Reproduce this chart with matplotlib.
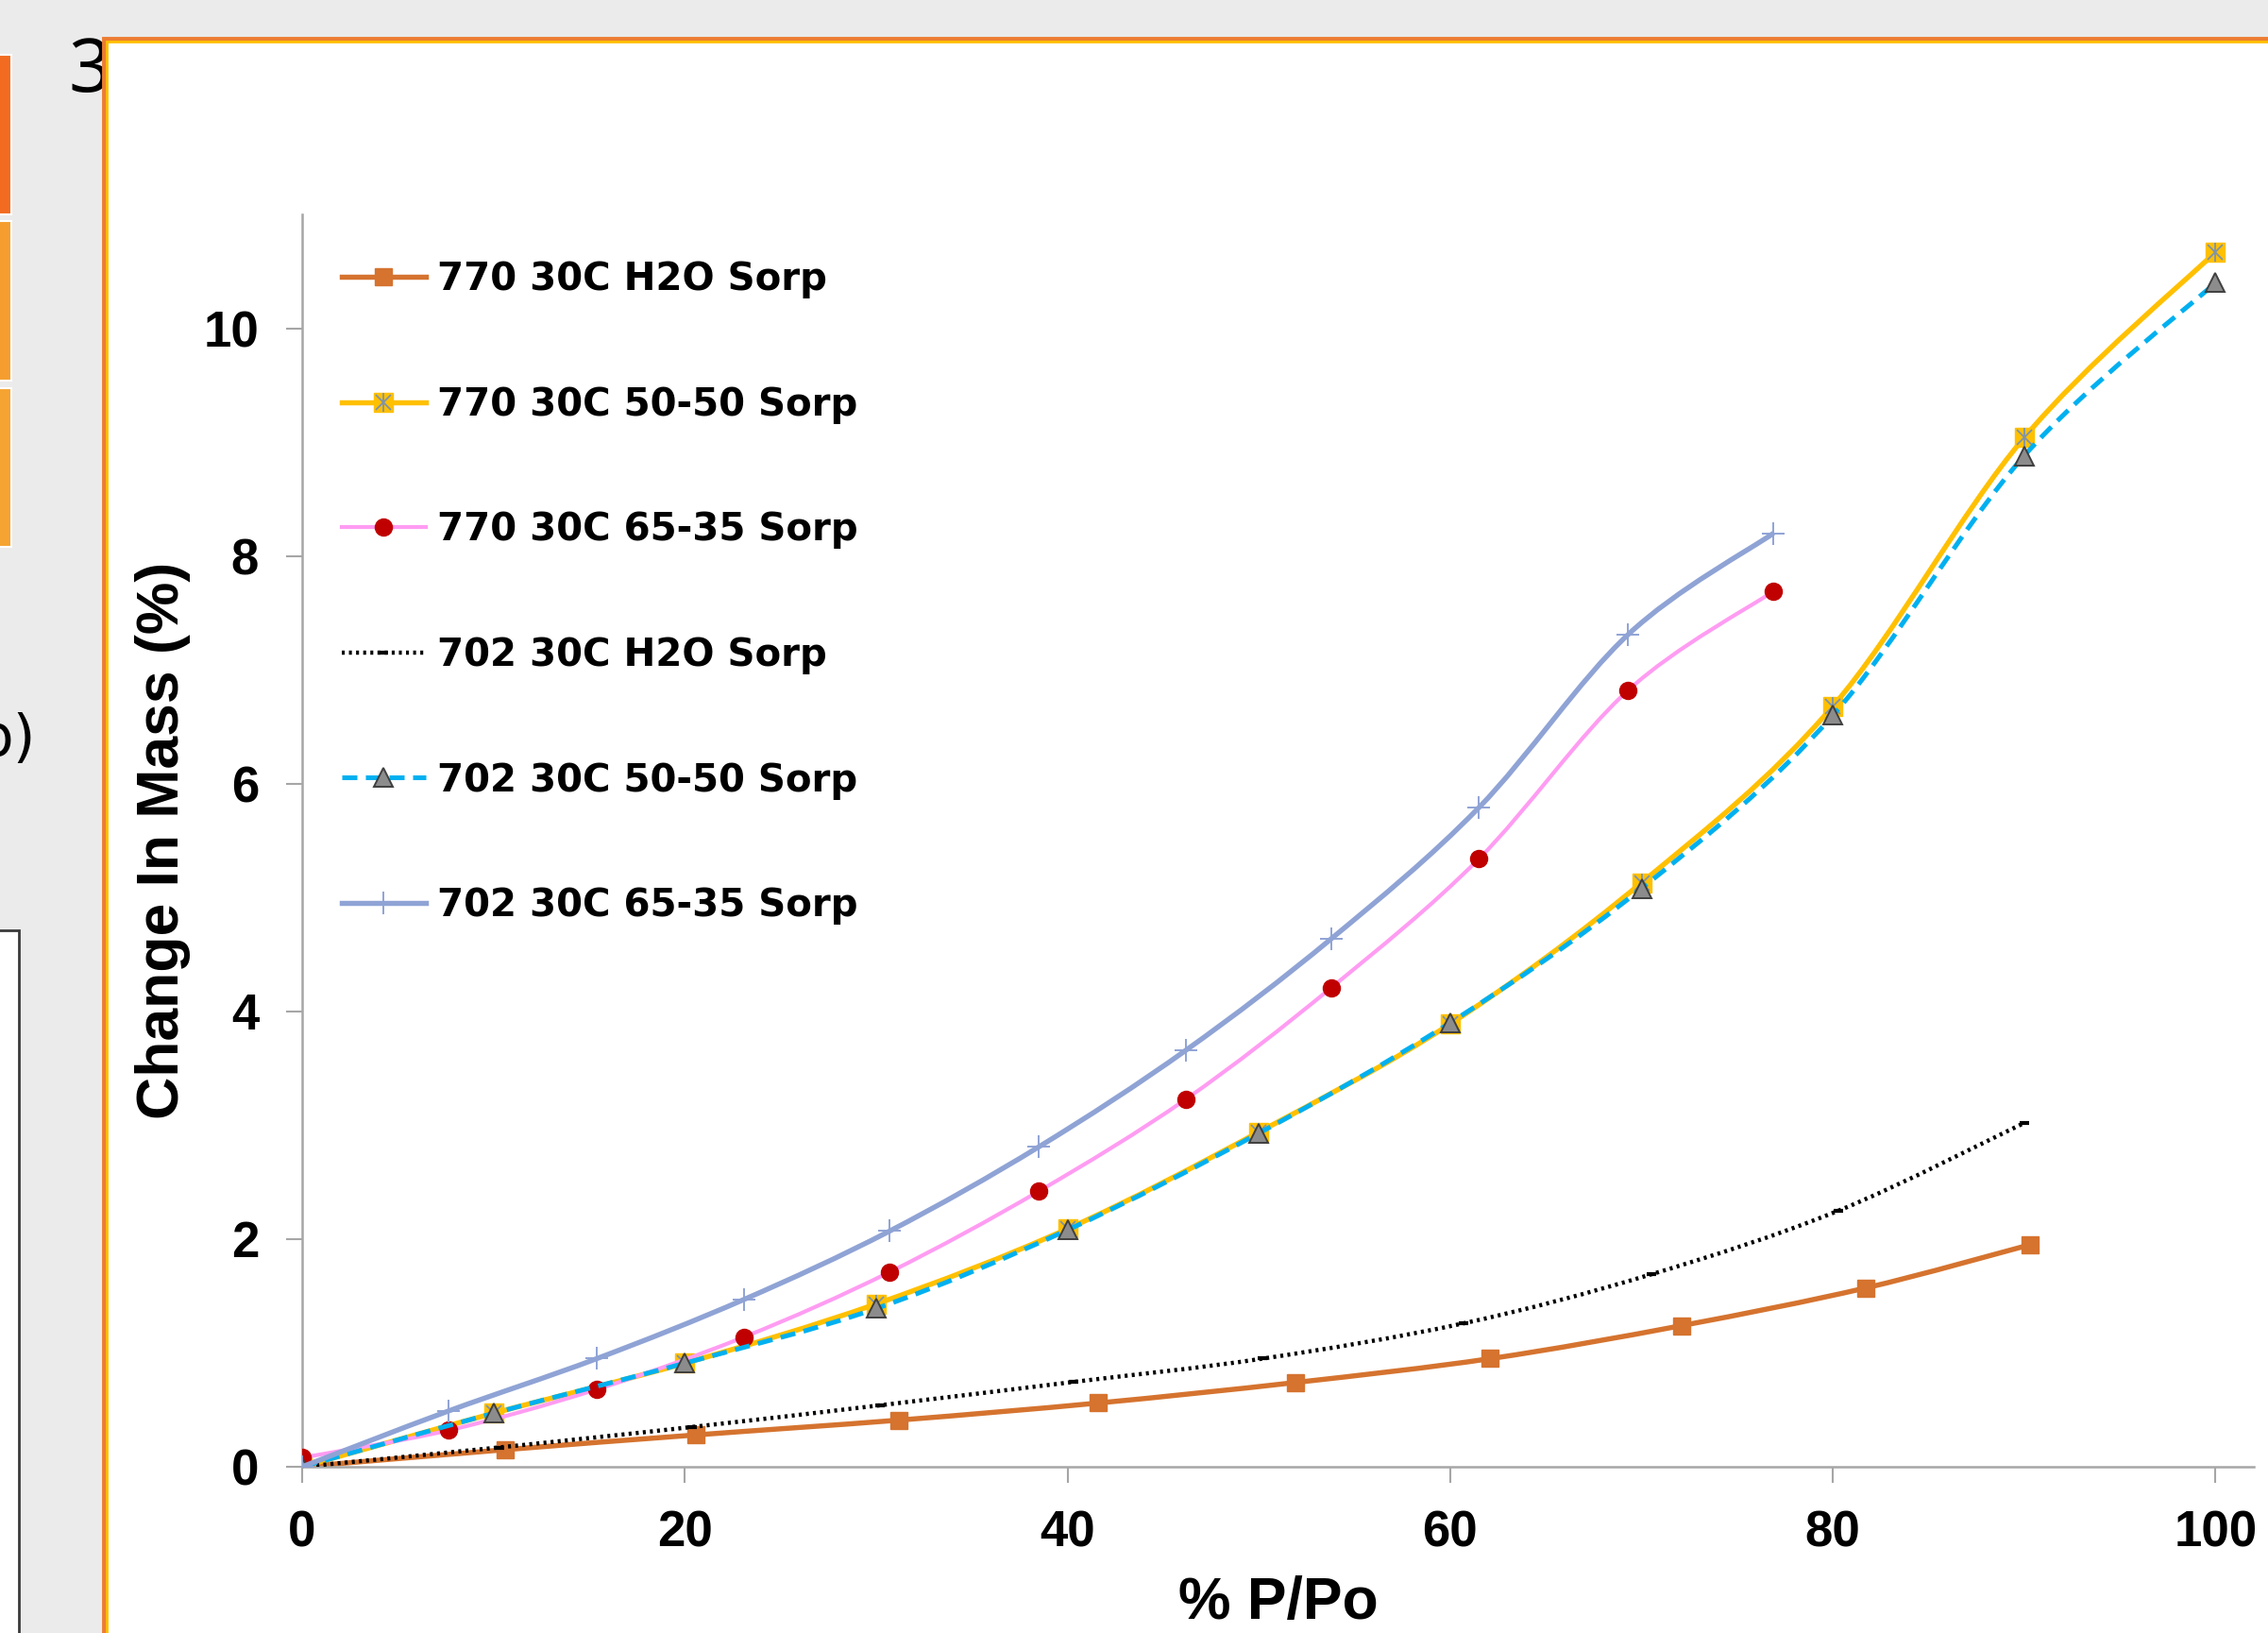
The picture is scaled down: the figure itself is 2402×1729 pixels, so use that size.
import numpy as np
import matplotlib
matplotlib.use("Agg")
from matplotlib import pyplot as plt
from matplotlib.lines import Line2D
from matplotlib.path import Path
from matplotlib.patches import PathPatch, Rectangle

# sorption data, % P/Po vs change in mass (%)
x_770_h2o = [0, 10.6, 20.6, 31.2, 41.6, 51.9, 62.1, 72.1, 81.7, 90.3]
y_770_h2o = [0, 0.15, 0.28, 0.41, 0.56, 0.74, 0.95, 1.24, 1.57, 1.95]

x_5050 = [0, 10, 20, 30, 40, 50, 60, 70, 80, 90, 100]
y_770_5050 = [0, 0.47, 0.91, 1.43, 2.09, 2.94, 3.89, 5.13, 6.68, 9.04, 10.67]
y_702_5050 = [0, 0.47, 0.91, 1.39, 2.08, 2.93, 3.90, 5.08, 6.60, 8.88, 10.40]

x_6535 = [0, 7.65, 15.4, 23.1, 30.7, 38.5, 46.2, 53.8, 61.5, 69.3, 76.9]
y_770_6535 = [0.08, 0.32, 0.68, 1.14, 1.71, 2.42, 3.23, 4.21, 5.34, 6.82, 7.69]
y_702_6535 = [0, 0.49, 0.95, 1.47, 2.07, 2.81, 3.66, 4.64, 5.79, 7.31, 8.20]

x_702_h2o = [0, 10.3, 20.4, 30.2, 40.3, 50.2, 60.7, 70.5, 80.3, 90.0]
y_702_h2o = [0, 0.17, 0.35, 0.54, 0.745, 0.95, 1.26, 1.69, 2.25, 3.02]

labels = [
    "770 30C H2O Sorp",
    "770 30C 50-50 Sorp",
    "770 30C 65-35 Sorp",
    "702 30C H2O Sorp",
    "702 30C 50-50 Sorp",
    "702 30C 65-35 Sorp",
]

ORANGE = "#D5732F"
GOLD = "#FFC000"
PINK = "#FF9CF2"
RED = "#C00000"
CYAN = "#00B0F0"
PERI = "#8FA3D5"
STAR = "#7F93A8"
AXIS_GRAY = "#A6A6A6"

DOTS = (0, (0.7, 1.0))
DASHES = (0, (3.2, 1.8))

W, H = 2402, 1729


def smooth_path(xs, ys):
    # Excel-style smoothed line: cubic bezier through every point
    p = np.column_stack([xs, ys]).astype(float)
    n = len(p)
    verts = [p[0]]
    codes = [Path.MOVETO]
    for i in range(n - 1):
        p0 = p[i - 1] if i > 0 else p[i]
        p3 = p[i + 2] if i + 2 < n else p[i + 1]
        c1 = p[i] + (p[i + 1] - p0) / 6.0
        c2 = p[i + 1] - (p3 - p[i]) / 6.0
        verts += [c1, c2, p[i + 1]]
        codes += [Path.CURVE4] * 3
    return Path(verts, codes)


def add_curve(ax, xs, ys, color, lw, ls="-", z=2):
    patch = PathPatch(smooth_path(xs, ys), facecolor="none", edgecolor=color,
                      linewidth=lw, linestyle=ls, zorder=z, capstyle="butt")
    ax.add_patch(patch)


fig = plt.figure(figsize=(W / 100, H / 100), dpi=100)
fig.patch.set_facecolor("#EBEBEB")

# slide pieces around the chart frame
fig.text(72 / W, 1 - 76 / H, "3", fontsize=57, family="Noto Sans",
         ha="left", va="center", zorder=-5)
fig.text(38 / W, 1 - 783 / H, "b)", fontsize=44, family="DejaVu Sans",
         ha="right", va="center", zorder=-5)
for top, bottom, col in [(58, 227, "#F26B21"), (234, 403, "#F59E2F"),
                         (411, 579, "#F5A431")]:
    fig.patches.append(Rectangle((-10 / W, 1 - bottom / H), 22 / W,
                                 (bottom - top) / H, transform=fig.transFigure,
                                 facecolor=col, edgecolor="white", lw=1.5,
                                 zorder=-4))
fig.patches.append(Rectangle((-20 / W, -0.1), 40 / W, 1.1 - 985 / H,
                             transform=fig.transFigure, facecolor="white",
                             edgecolor="#3A3A3A", lw=2, zorder=-4))

# chart frame with orange / gold border
fig.patches.append(Rectangle((110 / W, -0.1), 1.2, 1.1 - 41 / H,
                             transform=fig.transFigure, facecolor="white",
                             edgecolor="#ED7D31", lw=3.5, zorder=-3))
fig.patches.append(Rectangle((113 / W, -0.1), 1.2, 1.1 - 44 / H,
                             transform=fig.transFigure, facecolor="none",
                             edgecolor="#FFC000", lw=2.0, zorder=-3))

ax = fig.add_axes([320 / W, 1 - 1553 / H, (2387 - 320) / W, (1553 - 227) / H])
ax.set_facecolor("none")

# 1: 770 H2O
add_curve(ax, x_770_h2o, y_770_h2o, ORANGE, 3.9, z=2)
ax.plot(x_770_h2o, y_770_h2o, ls="none", marker="s", ms=13,
        mfc=ORANGE, mec=ORANGE, zorder=2.1)

# 2: 770 50-50
add_curve(ax, x_5050, y_770_5050, GOLD, 3.9, z=3)
ax.plot(x_5050, y_770_5050, ls="none", marker="s", ms=14,
        mfc=GOLD, mec=GOLD, zorder=3.1)
ax.plot(x_5050, y_770_5050, ls="none", marker="x", ms=12, mew=1.3,
        mec=STAR, zorder=3.2)
ax.plot(x_5050, y_770_5050, ls="none", marker="|", ms=15, mew=1.3,
        mec=STAR, zorder=3.2)

# 3: 770 65-35
add_curve(ax, x_6535, y_770_6535, PINK, 3.0, z=4)
ax.plot(x_6535, y_770_6535, ls="none", marker="o", ms=13,
        mfc=RED, mec=RED, zorder=4.1)

# 4: 702 H2O
add_curve(ax, x_702_h2o, y_702_h2o, "black", 3.2, ls=DOTS, z=5)
ax.plot(x_702_h2o, y_702_h2o, ls="none", marker="_", ms=7, mew=3,
        mec="black", zorder=5.1)

# 5: 702 50-50
add_curve(ax, x_5050, y_702_5050, CYAN, 3.6, ls=DASHES, z=6)
ax.plot(x_5050, y_702_5050, ls="none", marker="^", ms=15,
        mfc="#8C8C8C", mec="#3F3F3F", mew=1.4, zorder=6.1)

# 6: 702 65-35
add_curve(ax, x_6535, y_702_6535, PERI, 3.9, z=7)
ax.plot(x_6535, y_702_6535, ls="none", marker="+", ms=17, mew=1.4,
        mec=PERI, zorder=7.1)

ax.set_xlim(0, 102)
ax.set_ylim(0, 11)
ax.set_xticks([0, 20, 40, 60, 80, 100])
ax.set_yticks([0, 2, 4, 6, 8, 10])

for side in ["top", "right"]:
    ax.spines[side].set_visible(False)
for side in ["left", "bottom"]:
    ax.spines[side].set_color(AXIS_GRAY)
    ax.spines[side].set_linewidth(1.8)

ax.tick_params(axis="both", direction="out", length=12, width=1.5,
               color=AXIS_GRAY, labelsize=38, pad=21)
for lab in ax.get_xticklabels() + ax.get_yticklabels():
    lab.set_fontweight("bold")
    lab.set_family("Liberation Sans")

ax.set_xlabel("% P/Po", fontsize=45, fontweight="bold",
              family="Liberation Sans", labelpad=14)
ax.set_ylabel("Change In Mass (%)", fontsize=45, fontweight="bold",
              family="Liberation Sans", labelpad=10)

handles = [
    Line2D([], [], color=ORANGE, lw=3.9, marker="s", ms=13, mfc=ORANGE, mec=ORANGE),
    (Line2D([], [], color=GOLD, lw=3.9, marker="s", ms=14, mfc=GOLD, mec=GOLD),
     Line2D([], [], ls="none", marker="x", ms=12, mew=1.3, mec=STAR),
     Line2D([], [], ls="none", marker="|", ms=15, mew=1.3, mec=STAR)),
    Line2D([], [], color=PINK, lw=3.0, marker="o", ms=13, mfc=RED, mec=RED),
    Line2D([], [], color="black", lw=3.2, ls=DOTS, marker="_",
           ms=7, mew=3, mec="black"),
    Line2D([], [], color=CYAN, lw=3.6, ls=DASHES, marker="^", ms=15,
           mfc="#8C8C8C", mec="#3F3F3F", mew=1.4),
    Line2D([], [], color=PERI, lw=3.9, marker="+", ms=17, mew=1.4, mec=PERI),
]
leg = fig.legend(handles, labels, loc="upper left",
                 bbox_to_anchor=(362 / W, 1 - 276 / H),
                 frameon=False, borderpad=0, borderaxespad=0,
                 handlelength=2.2, handletextpad=0.3, labelspacing=2.3,
                 prop={"family": "DejaVu Sans", "weight": "bold", "size": 29})

fig.savefig("out.png", dpi=100, facecolor=fig.get_facecolor())
